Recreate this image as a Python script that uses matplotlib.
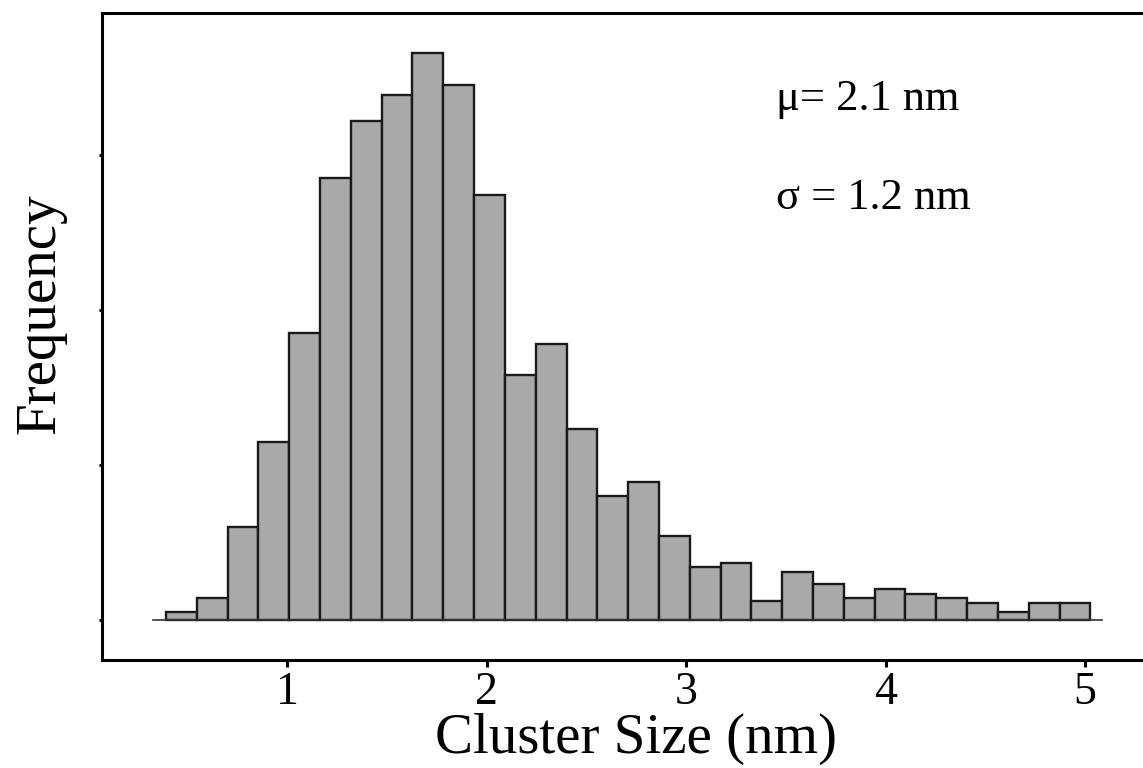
import matplotlib.pyplot as plt
import numpy as np

# data (counts per bin, arbitrary units)
bin_start = 0.392
bin_width = 0.1545
counts = [5, 14, 60, 115, 185, 285, 322, 339, 366, 345,
          274, 158, 178, 123, 80, 89, 54, 34, 37, 12,
          31, 23, 14, 20, 17, 14, 11, 5, 11, 11]
x_ticks = [1, 2, 3, 4, 5]
y_ticks = [0, 100, 200, 300]
mu_text = 'μ= 2.1 nm'
sigma_text = 'σ = 1.2 nm'

plt.rcParams['font.family'] = ['Liberation Serif', 'DejaVu Serif']

fig = plt.figure(figsize=(11.43, 7.68), dpi=100)
ax = fig.add_axes([0.0892, 0.1406, 0.9108, 0.8424])

lefts = bin_start + bin_width * np.arange(len(counts))
ax.bar(lefts, counts, width=bin_width, align='edge',
       color='#a9a9a9', edgecolor='#1a1a1a', linewidth=1.7)

# thin baseline under the bars
ax.plot([lefts[0] - 0.065, lefts[-1] + bin_width + 0.06], [0, 0],
        color='#333333', linewidth=1.2, zorder=1)

ax.set_xlim(0.071, 5.291)
ax.set_ylim(-25.8, 391.6)
ax.set_xticks(x_ticks)
ax.set_xticklabels([str(t) for t in x_ticks], fontsize=33)
ax.set_yticks(y_ticks)
ax.set_yticklabels([])
ax.tick_params(axis='x', direction='out', length=5, width=2.2, pad=3)
ax.tick_params(axis='y', direction='out', length=2, width=2)

for side in ['left', 'bottom', 'top']:
    ax.spines[side].set_linewidth(2.2)
ax.spines['right'].set_visible(False)

ax.set_xlabel('Cluster Size (nm)', fontsize=41)
ax.xaxis.set_label_coords(0.513, -0.081)
ax.set_ylabel('Frequency', fontsize=41)
ax.yaxis.set_label_coords(-0.034, 0.536)

ax.text(3.45, 329, mu_text, fontsize=32, ha='left', va='baseline')
ax.text(3.45, 265, sigma_text, fontsize=32, ha='left', va='baseline')

fig.savefig('out.png', dpi=100)
